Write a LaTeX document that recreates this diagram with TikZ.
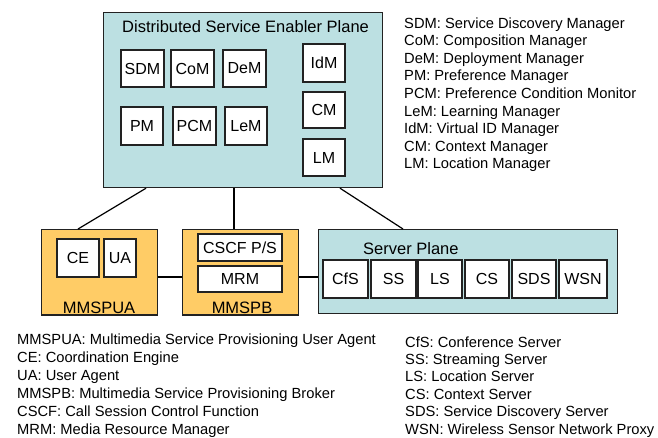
\documentclass[tikz,border=0pt]{standalone}
\usepackage{fontspec}
\setmainfont{Liberation Sans}
\definecolor{planeteal}{HTML}{BCE0E2}
\definecolor{agentorange}{HTML}{FFCC66}
\definecolor{edgegray}{HTML}{222222}
\begin{document}
\begin{tikzpicture}[x=1pt,y=-1pt,
  plane/.style={draw=edgegray,line width=1.2pt,fill=planeteal,rectangle,inner sep=0pt,anchor=north west},
  agent/.style={draw=edgegray,line width=1.2pt,fill=agentorange,rectangle,inner sep=0pt,anchor=north west},
  mod/.style={draw=edgegray,line width=1.2pt,fill=white,rectangle,inner sep=0pt,font=\fontsize{16}{19}\selectfont},
  ttl/.style={inner sep=0pt,font=\fontsize{16.5}{19}\selectfont},
  leg/.style={inner sep=0pt,anchor=base west,font=\fontsize{14.7}{17.6}\selectfont},
  link/.style={draw=black,line width=1.2pt}]
\useasboundingbox (0,0) rectangle (658,437);

% planes
\node[plane,minimum width=279pt,minimum height=175pt] (dse) at (103,12) {};
\node[agent,minimum width=116pt,minimum height=85pt] (ua) at (41,229) {};
\node[agent,minimum width=116pt,minimum height=85pt] (pb) at (182,229) {};
\node[plane,minimum width=299pt,minimum height=84pt] (sp) at (318,229) {};

% titles
\node[ttl,anchor=base west] (dsetitle) at (122,32) {Distributed Service Enabler Plane};
\node[ttl,anchor=base west] (sptitle) at (363,254) {Server Plane};
\node[ttl,anchor=base] (uatitle) at (99,313.5) {MMSPUA};
\node[ttl,anchor=base] (pbtitle) at (242,313.5) {MMSPB};
\draw[edgegray,line width=1.2pt] (ua.south west) -- (ua.south east);
\draw[edgegray,line width=1.2pt] (pb.south west) -- (pb.south east);

% DSE modules
\node[mod,minimum width=43pt,minimum height=37pt] (sdm) at (142.5,68.5) {SDM};
\node[mod,minimum width=43pt,minimum height=37pt] (com) at (192.5,68.5) {CoM};
\node[mod,minimum width=43pt,minimum height=37pt] (dem) at (244.5,68.5) {DeM};
\node[mod,minimum width=42pt,minimum height=38pt] (pm) at (142,126) {PM};
\node[mod,minimum width=43pt,minimum height=38pt] (pcm) at (194.5,126) {PCM};
\node[mod,minimum width=42pt,minimum height=38pt] (lem) at (246,126) {LeM};
\node[mod,minimum width=42pt,minimum height=38pt] (idm) at (324,63) {IdM};
\node[mod,minimum width=42pt,minimum height=36pt] (cm) at (324,110) {CM};
\node[mod,minimum width=42pt,minimum height=37pt] (lm) at (324,157.5) {LM};

% MMSPUA modules
\node[mod,minimum width=42pt,minimum height=38pt] (ce) at (78,258) {CE};
\node[mod,minimum width=32pt,minimum height=38pt] (uabox) at (120,258) {UA};

% MMSPB modules
\node[mod,minimum width=84pt,minimum height=27pt] (cscf) at (240,247.5) {CSCF P/S};
\node[mod,minimum width=84pt,minimum height=26pt] (mrm) at (240,279) {MRM};

% Server modules
\node[mod,minimum width=45pt,minimum height=38pt] (cfs) at (345.5,279) {CfS};
\node[mod,minimum width=45pt,minimum height=38pt] (ss) at (393.5,279) {SS};
\node[mod,minimum width=44pt,minimum height=38pt] (ls) at (440,279) {LS};
\node[mod,minimum width=44pt,minimum height=38pt] (cs) at (487,279) {CS};
\node[mod,minimum width=44pt,minimum height=38pt] (sds) at (534,279) {SDS};
\node[mod,minimum width=48pt,minimum height=38pt] (wsn) at (583,279) {WSN};

% connectors
\draw[link] ([xshift=43pt]dse.south west) -- ([xshift=37pt]ua.north west);
\draw[link] ([xshift=131pt]dse.south west) -- ([xshift=52pt]pb.north west);
\draw[link] ([xshift=237pt]dse.south west) -- ([xshift=85pt]sp.north west);
\draw[link] ([yshift=-48pt]ua.north east) -- ([yshift=-48pt]pb.north west);
\draw[link] ([yshift=-48pt]pb.north east) -- ([yshift=-48pt]sp.north west);

% legends
\foreach \t [count=\i from 0] in {SDM: Service Discovery Manager,CoM: Composition Manager,DeM: Deployment Manager,PM: Preference Manager,PCM: Preference Condition Monitor,LeM: Learning Manager,IdM: Virtual ID Manager,CM: Context Manager,LM: Location Manager}
  \node[leg] (lega\i) at (404,{28+17.6*\i}) {\t};
\foreach \t [count=\i from 0] in {MMSPUA: Multimedia Service Provisioning User Agent,CE: Coordination Engine,UA: User Agent,MMSPB: Multimedia Service Provisioning Broker,CSCF: Call Session Control Function,MRM: Media Resource Manager}
  \node[leg] (legb\i) at (17,{344+18*\i}) {\t};
\foreach \t [count=\i from 0] in {CfS: Conference Server,SS: Streaming Server,LS: Location Server,CS: Context Server,SDS: Service Discovery Server,WSN: Wireless Sensor Network Proxy}
  \node[leg] (legc\i) at (405,{347+17.4*\i}) {\t};
\end{tikzpicture}
\end{document}
